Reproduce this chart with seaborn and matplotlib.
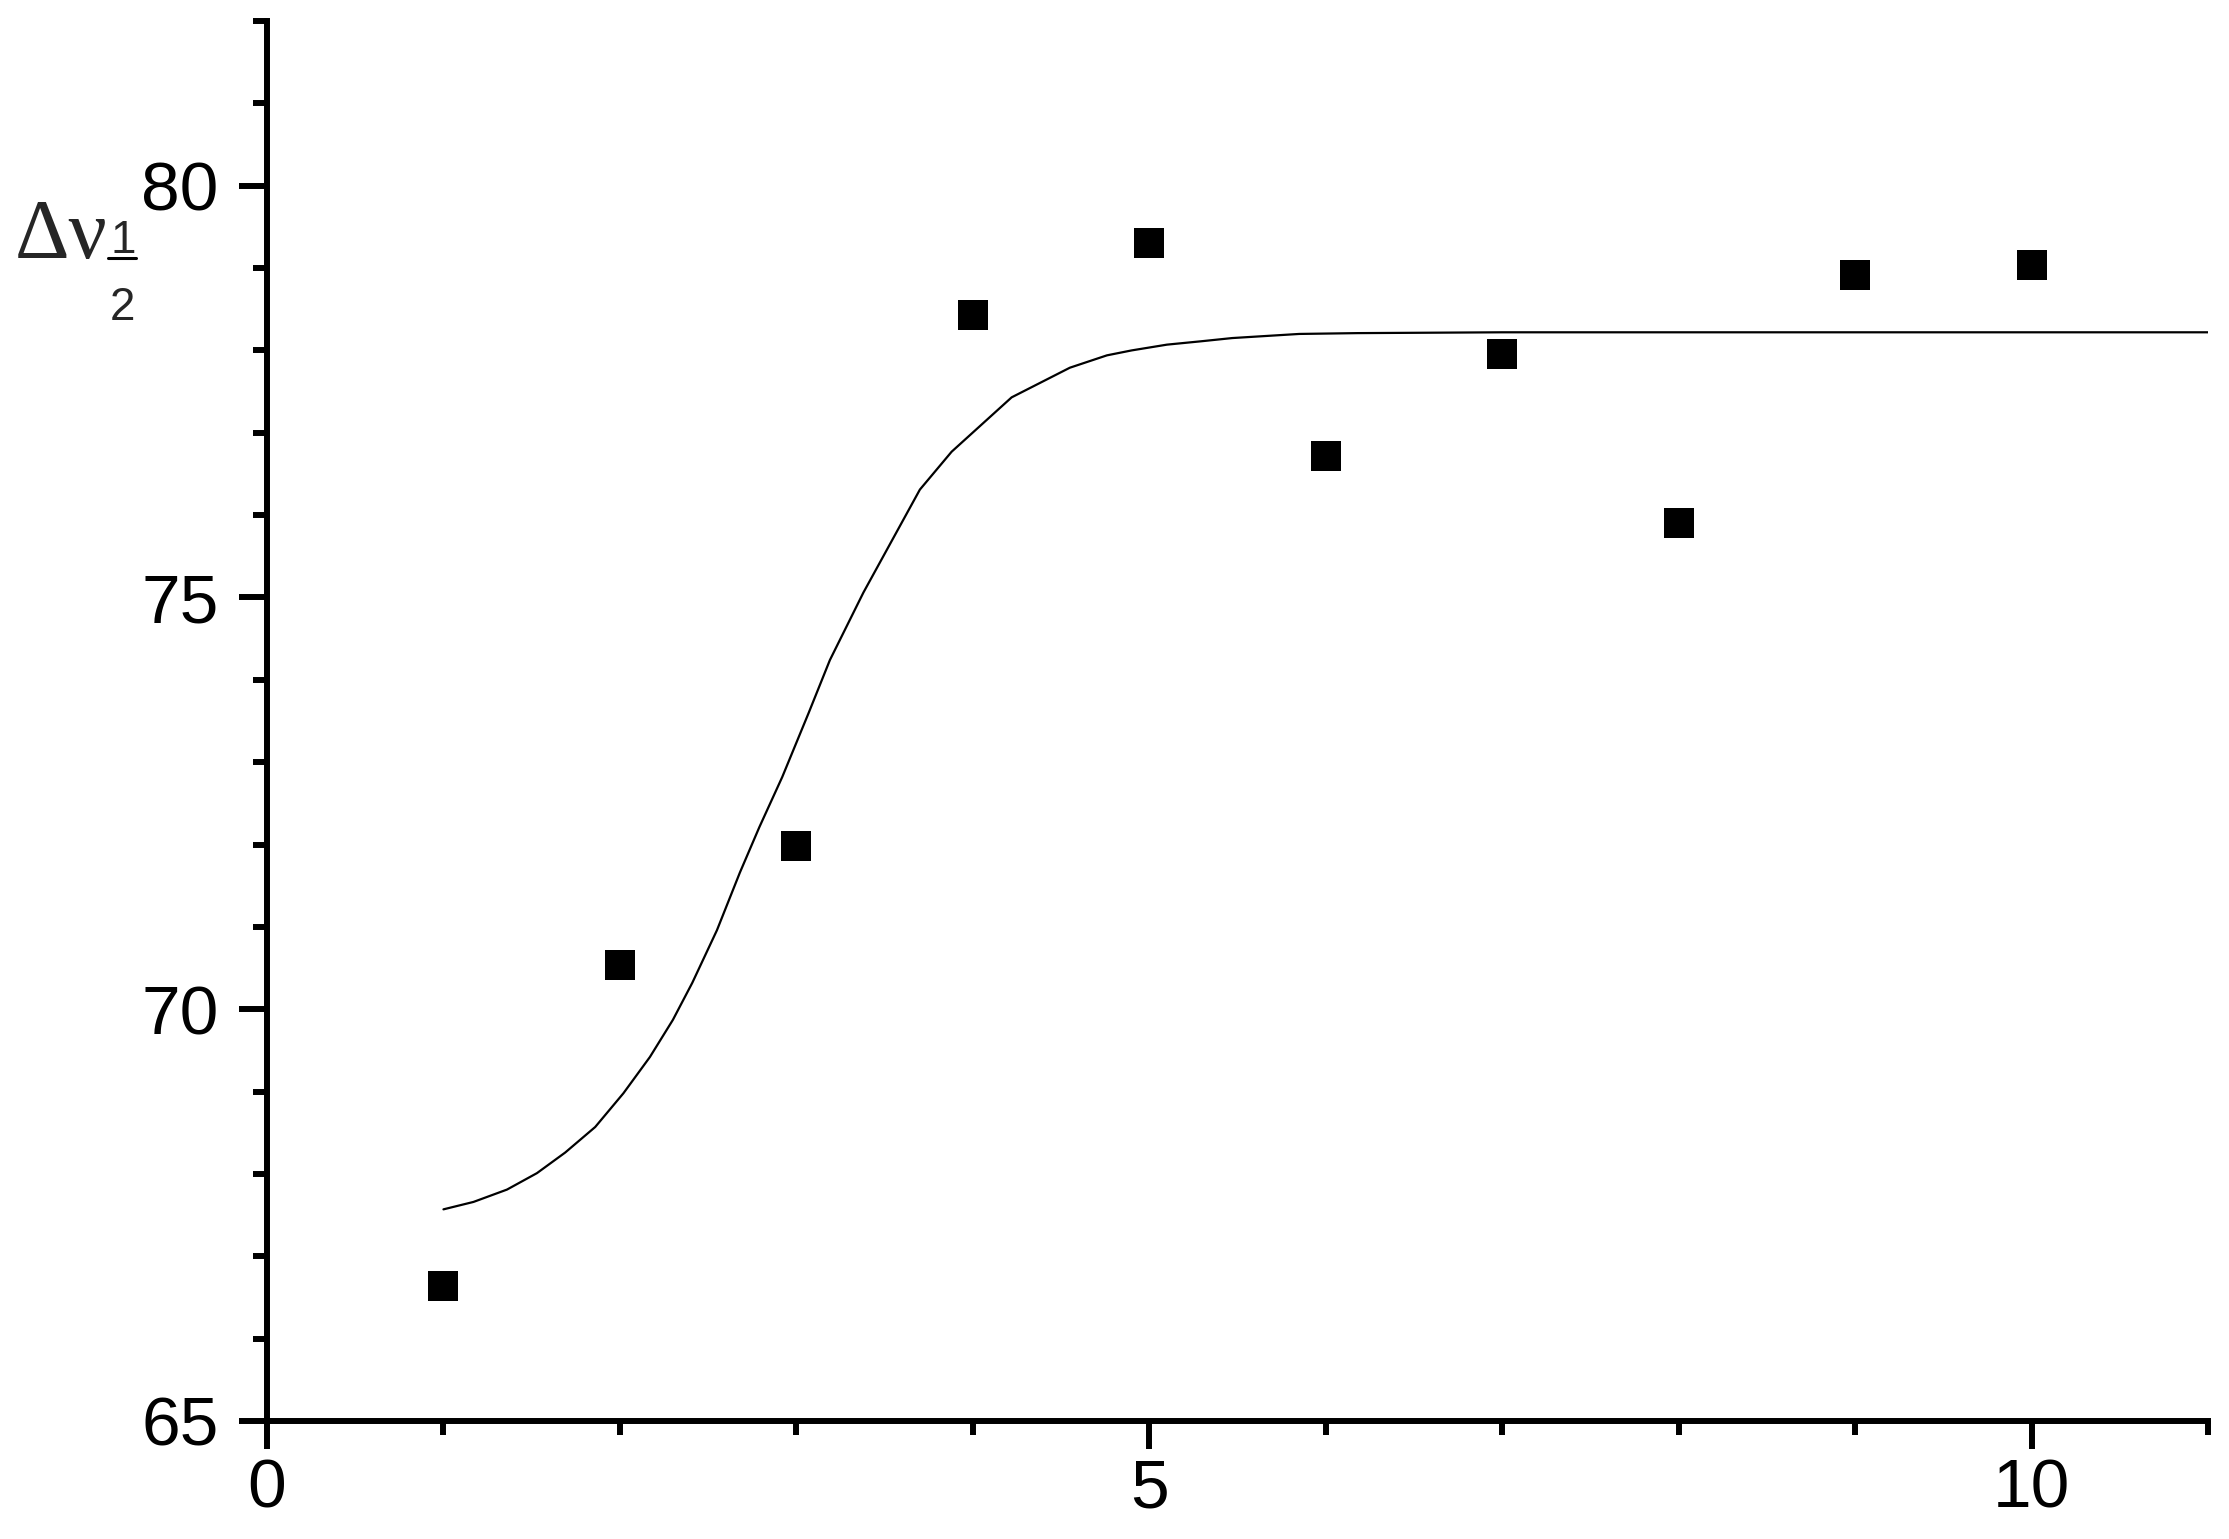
import numpy as np
import pandas as pd
import seaborn as sns
import matplotlib
matplotlib.use("Agg")
import matplotlib.pyplot as plt
from matplotlib.lines import Line2D
from matplotlib.ticker import MultipleLocator

# ---- data ----
point_x = [1, 2, 3, 4, 5, 6, 7, 8, 9, 10]
point_y = [66.64, 70.54, 71.98, 78.43, 79.30, 76.72, 77.96, 75.91, 78.91, 79.04]

curve_x = [1.00, 1.17, 1.36, 1.53, 1.69, 1.86, 2.02, 2.17, 2.30, 2.41, 2.55, 2.68,
           2.79, 2.92, 3.07, 3.19, 3.38, 3.70, 3.88, 4.22, 4.55, 4.76, 4.90, 5.10,
           5.29, 5.47, 5.85, 6.18, 7.0, 8.0, 9.0, 10.0, 11.0]
curve_y = [67.57, 67.66, 67.81, 68.01, 68.26, 68.57, 68.98, 69.42, 69.87, 70.32, 70.96, 71.66,
           72.21, 72.82, 73.60, 74.24, 75.06, 76.31, 76.77, 77.43, 77.79, 77.94, 78.00, 78.07,
           78.11, 78.15, 78.20, 78.21, 78.22, 78.22, 78.22, 78.22, 78.22]

x_major = [0, 5, 10]
y_major = [65, 70, 75, 80]
x_labels = ["0", "5", "10"]
y_labels = ["65", "70", "75", "80"]

# ---- style ----
sns.set_style("ticks")
plt.rcParams['font.family'] = ['Liberation Sans', 'DejaVu Sans']

W, H = 2229, 1539
DPI = 100
fig = plt.figure(figsize=(W / DPI, H / DPI), dpi=DPI)
ax = fig.add_axes([267 / W, 1 - 1421 / H, (2208 - 267) / W, (1421 - 21) / H])

pts = pd.DataFrame({"x": point_x, "y": point_y})
crv = pd.DataFrame({"x": curve_x, "y": curve_y})

sns.lineplot(data=crv, x="x", y="y", ax=ax, color="black", linewidth=1.6,
             sort=False, estimator=None, zorder=2)
sns.scatterplot(data=pts, x="x", y="y", ax=ax, marker="s", s=440, color="black",
                linewidth=0, zorder=3)

ax.set_xlim(0, 11)
ax.set_ylim(65, 82)
ax.set_xlabel("")
ax.set_ylabel("")

ax.set_xticks(x_major)
ax.set_xticklabels(x_labels)
ax.set_yticks(y_major)
ax.set_yticklabels(y_labels)
ax.xaxis.set_minor_locator(MultipleLocator(1))
ax.yaxis.set_minor_locator(MultipleLocator(1))

for s in ["top", "right"]:
    ax.spines[s].set_visible(False)
for s in ["left", "bottom"]:
    ax.spines[s].set_linewidth(4.3)
    ax.spines[s].set_color("black")
    ax.spines[s].set_capstyle("projecting")

ax.tick_params(which="major", direction="out", length=20, width=4.3, colors="black",
               labelsize=50)
ax.tick_params(which="minor", direction="out", length=10, width=4.3, colors="black")
ax.tick_params(axis="x", which="major", pad=6)
ax.tick_params(axis="y", which="major", pad=15)

# ---- y-axis label: Δν with 1/2 subscript fraction ----
fig.text(15 / W, 1 - 258 / H, "Δν", family=["Liberation Serif", "DejaVu Serif"],
         fontsize=61, ha="left", va="baseline")
fig.text(123 / W, 1 - 253 / H, "1", fontsize=33, ha="center", va="baseline")
fig.text(122 / W, 1 - 320 / H, "2", fontsize=33, ha="center", va="baseline")
fig.add_artist(Line2D([108 / W, 136 / W], [1 - 258 / H, 1 - 258 / H],
                      transform=fig.transFigure, color="black", linewidth=2.2))

fig.savefig("out.png", dpi=DPI, facecolor="white")
